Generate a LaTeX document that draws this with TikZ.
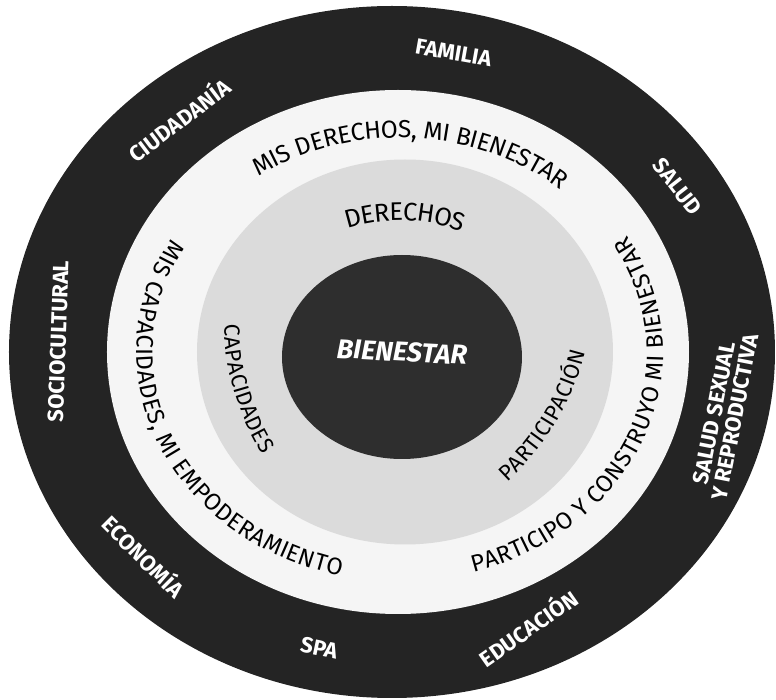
\documentclass[tikz,border=0pt]{standalone}
\usepackage{fontspec}
\setsansfont{Fira Sans}
\newfontfamily\ringfont{Fira Sans}
\newfontfamily\handfont{Fira Sans}
\usetikzlibrary{decorations.text}
\definecolor{ringdark}{gray}{0.14}
\definecolor{ringlight}{gray}{0.96}
\definecolor{ringmid}{gray}{0.86}
\definecolor{coredark}{gray}{0.18}

\begin{document}
\begin{tikzpicture}[
  ringlabel/.style={text=white, inner sep=0pt, font=\ringfont\bfseries\fontsize{12.5}{12}\selectfont},
  arctext/.style 2 args={decorate, decoration={text along path, text align=center, raise=-4.8pt,
    text={|\handfont\fontsize{#1}{16}\selectfont|#2}}}
]
  \useasboundingbox (-8,-6.96) rectangle (7.52,7.04);
  % rings, outside in
  \fill[ringdark] (-0.16,0) ellipse [x radius=7.66, y radius=6.92];
  \fill[ringlight] (-0.04,0) ellipse [x radius=5.82, y radius=5.24];
  \fill[ringmid] (0.1,0) ellipse [x radius=4.16, y radius=3.85];
  \fill[coredark] (0.04,-0.1) ellipse [x radius=2.4, y radius=2.04];
  \node[ringlabel, font=\ringfont\bfseries\itshape\fontsize{15.5}{15}\selectfont, rotate=-3] (core) at (0.04,0) {BIENESTAR};

  % outer ring
  \begin{scope}[xshift=-1mm]
    \foreach \t/\r/\nm/\txt in {80/-10/familia/FAMILIA, 130/37/ciudadania/CIUDADANÍA,
        33/-52/salud/SALUD, 178/88/sociocultural/SOCIOCULTURAL, 222/-45/economia/ECONOMÍA,
        257/-12/spa/SPA}
      \node[ringlabel, rotate=\r] (\nm) at (\t:6.74 and 6.08) {\txt};
    \node[ringlabel, align=center, rotate=79] (ssr) at (-12:6.74 and 6.08) {SALUD SEXUAL\\Y REPRODUCTIVA};
  \end{scope}
  \node[ringlabel, rotate=35] (educacion) at (2.55,-5.5) {EDUCACIÓN};

  % middle ring
  \path[arctext={14}{MIS DERECHOS{,} MI BIENESTAR}] (150:5.1 and 4.45) arc[start angle=150, end angle=24, x radius=5.1, y radius=4.45];
  \path[arctext={13.5}{MIS CAPACIDADES{,} MI EMPODERAMIENTO}] (133:5.1 and 4.42) arc[start angle=133, end angle=273, x radius=5.1, y radius=4.42];
  \path[arctext={13.5}{PARTICIPO Y CONSTRUYO MI BIENESTAR}] (-91:5.1 and 4.42) arc[start angle=-91, end angle=49, x radius=5.1, y radius=4.42];

  % inner ring
  \path[arctext={14.5}{DERECHOS}] (145:3.2 and 2.8) arc[start angle=145, end angle=31, x radius=3.2, y radius=2.8];
  \path[arctext={12.5}{CAPACIDADES}, shift={(1.65,0.66)}] (171:5) arc[start angle=171, end angle=222, radius=5];
  \path[arctext={12.5}{PARTICIPACIÓN}, shift={(-1.31,1.24)}] (-57:5) arc[start angle=-57, end angle=-5, radius=5];
\end{tikzpicture}
\end{document}
